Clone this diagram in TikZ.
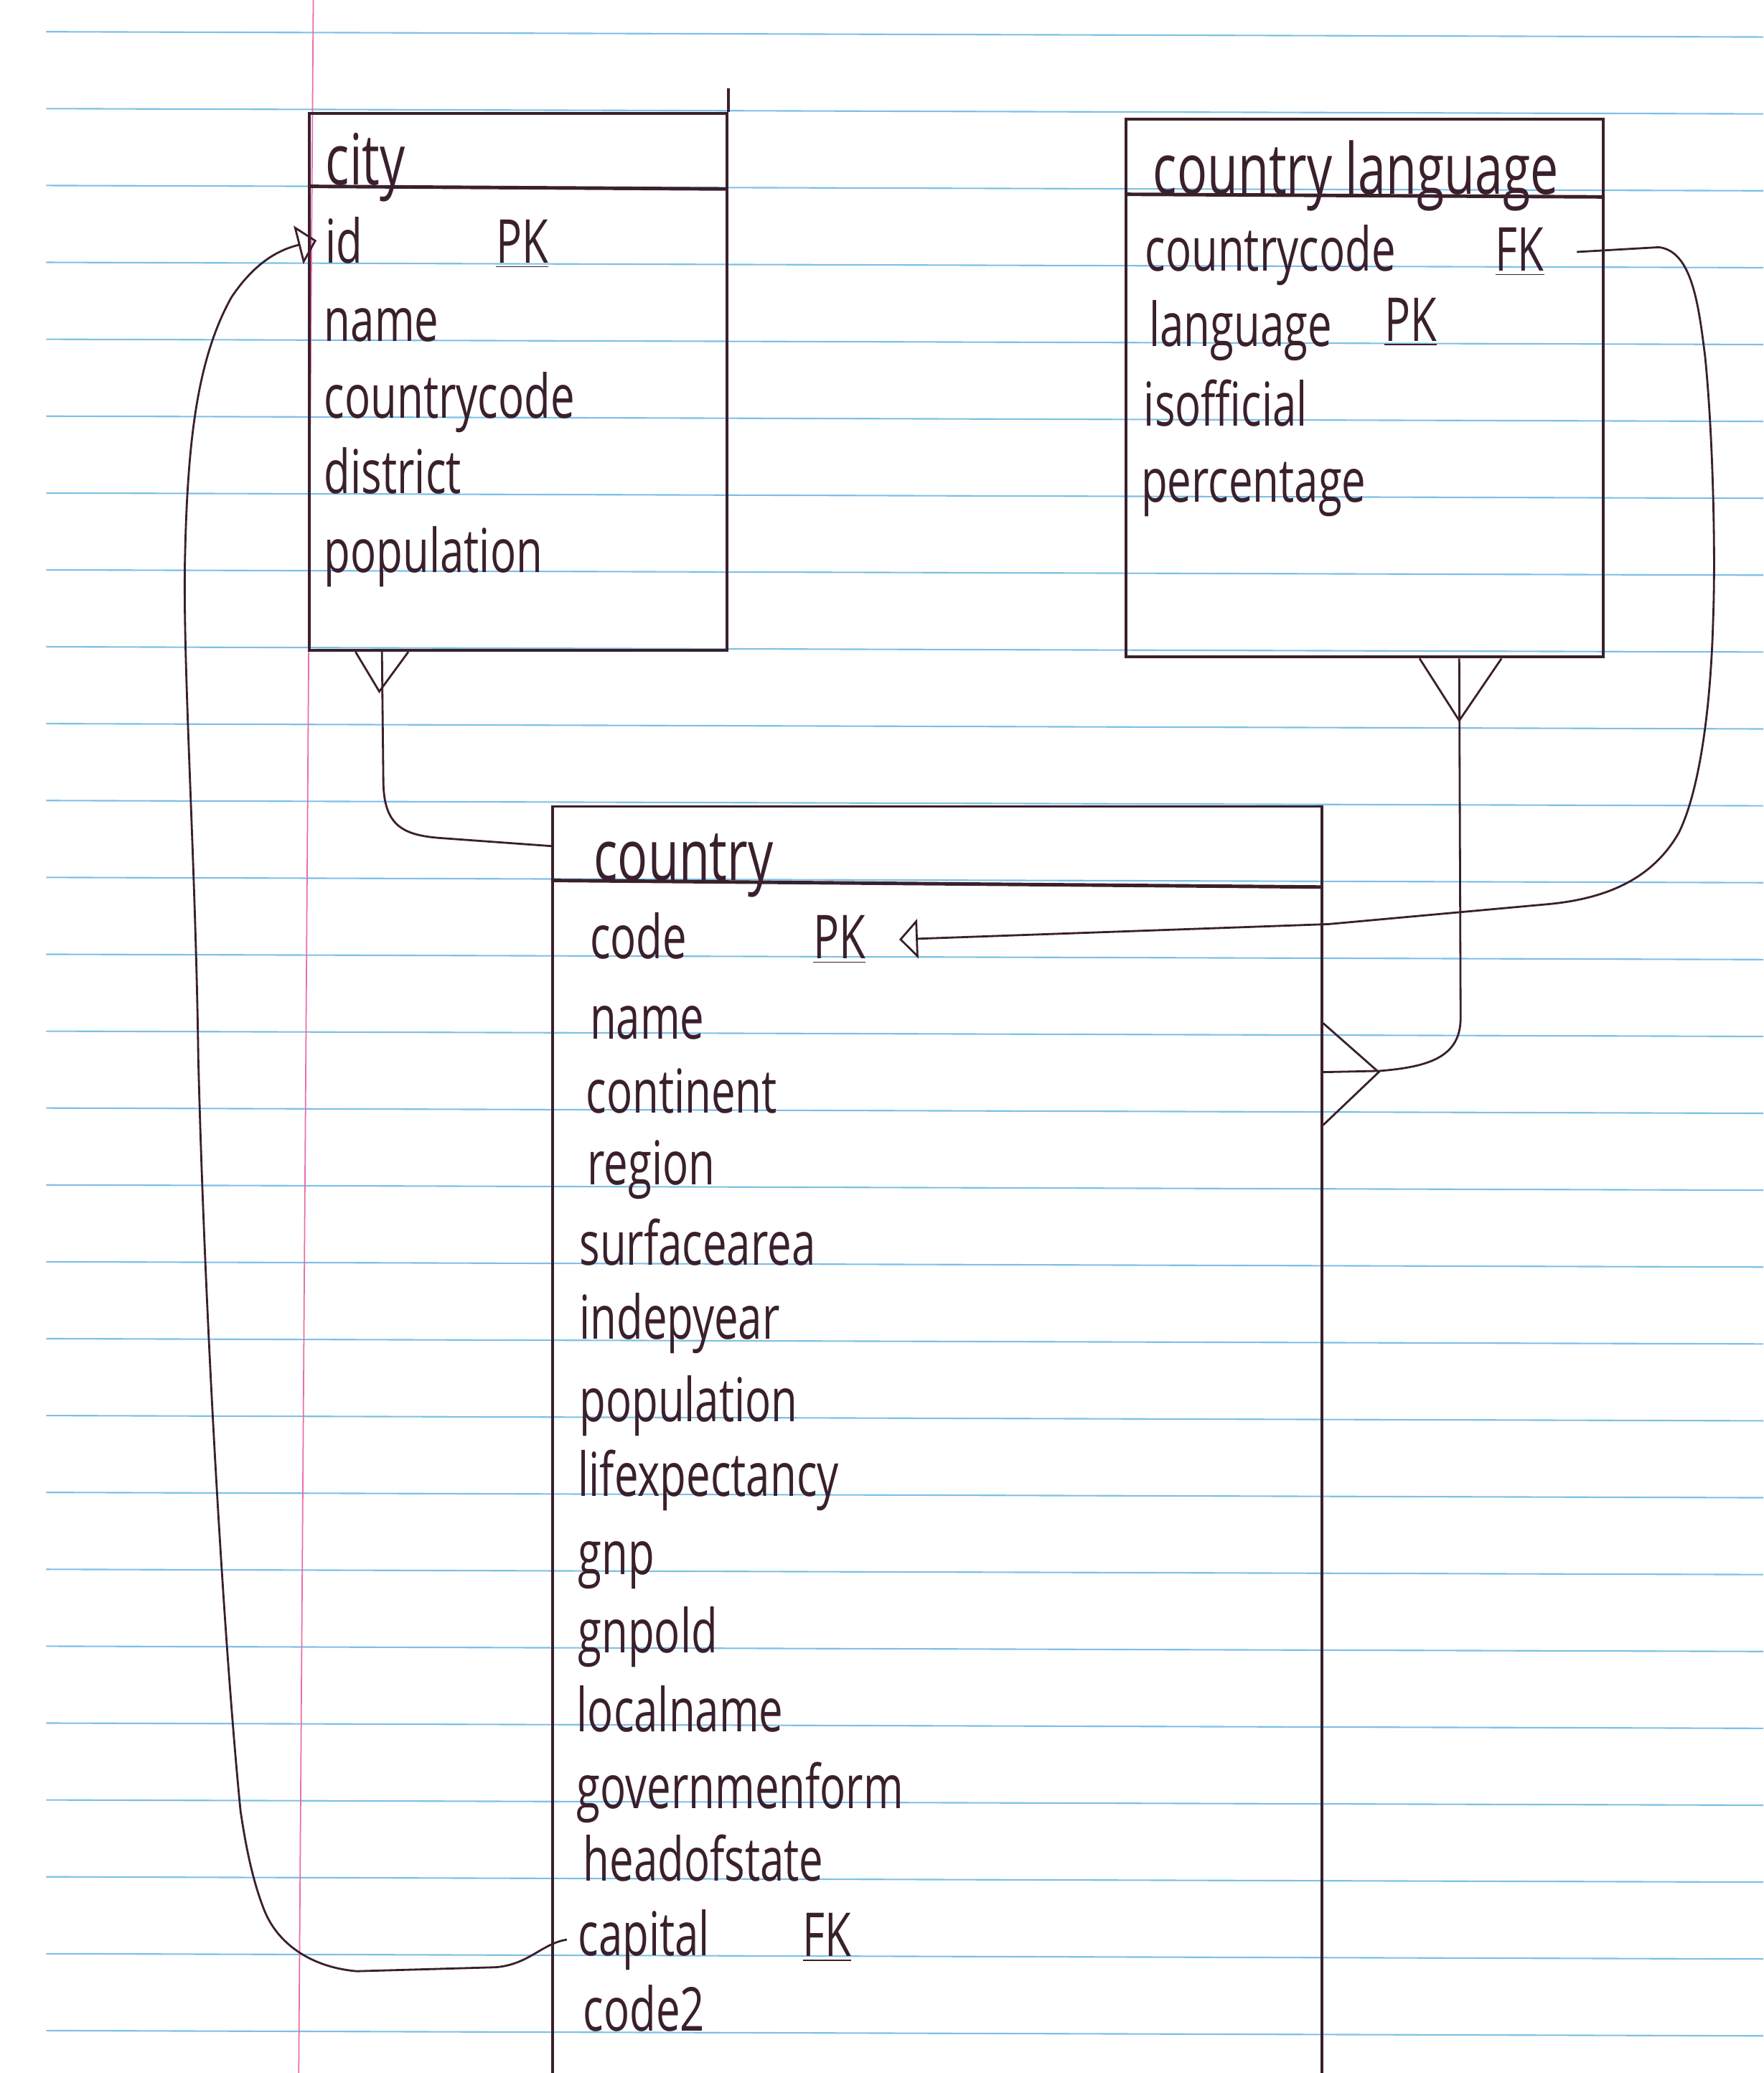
\documentclass[tikz,border=0pt]{standalone}
\usepackage{fontspec}
\setmainfont{Open Sans}[FakeStretch=0.71]
\usepackage{xcolor}
\usepackage{tikz}
\usetikzlibrary{arrows.meta,calc,fit}

\definecolor{ink}{RGB}{58,32,44}
\definecolor{ruling}{RGB}{125,192,232}
\definecolor{marginred}{RGB}{232,110,170}

\begin{document}
\begin{tikzpicture}[
        x=0.18418mm, y=-0.18418mm,
        entity/.style={draw=ink, line width=1.1pt, inner sep=0pt},
        headline/.style={draw=ink, line width=1.4pt},
        entityname/.style={anchor=base west, inner sep=0pt, text=ink, font=\fontsize{28}{28}\selectfont},
        attr/.style={anchor=base west, inner sep=0pt, text=ink, font=\fontsize{24}{24}\selectfont},
        rel/.style={draw=ink, line width=0.8pt},
        fkref/.style={rel, -{Triangle[open, length=2.6mm, width=5.5mm, line width=0.8pt]}}
    ]
                \useasboundingbox (0,0) rectangle (1334,1568);
                \clip (0,0) rectangle (1334,1568);

                \foreach \k in {0,...,26}
                    \draw[ruling, line width=0.6pt] (35,{24+58.15*\k}) -- (1334,{28+58.15*\k});
                \draw[marginred, line width=0.5pt] (237,0) -- (226,1568);

                \node[entity, fit={(234,86) (550,492)}] (city) {};
                \draw[entity] ($(city.north east)+(0,-18)$) -- (city.north east);
                \draw[headline] ($(city.north west)+(0,56)$) -- ($(city.north east)+(0,58)$);
                \node[entityname] (citytitle) at (246,140) {city};
                \node[attr] (cityid) at (246,199) {id};
                \node[attr] (cityidpk) at (375,199) {\underline{PK}};
                \node[attr] (cityname) at (245,258) {name};
                \node[attr] (citycode) at (245,316) {countrycode};
                \node[attr] (citydistrict) at (245,373) {district};
                \node[attr] (citypop) at (245,433) {population};

                \node[entity, fit={(852,90) (1213,497)}] (cl) {};
                \draw[headline] ($(cl.north west)+(0,58)$) -- ($(cl.north east)+(0,60)$);
                \node[entityname] (cltitle) at (872,147) {country language};
                \node[attr] (clcode) at (866,205) {countrycode};
                \node[attr] (clfk) at (1131,205) {\underline{FK}};
                \node[attr] (cllang) at (869,262) {language};
                \node[attr] (cllangpk) at (1047,258) {\underline{PK}};
                \node[attr] (clofficial) at (865,322) {isofficial};
                \node[attr] (clpct) at (863,380) {percentage};

                \node[entity, fit={(418,610) (1000,1600)}] (ctry) {};
                \draw[headline] ($(ctry.north west)+(0,57)$) -- ($(ctry.north east)+(0,62)$);
                \node[entityname] (ctrytitle) at (449,666) {country};
                \node[attr] (ctrycode) at (446,725) {code};
                \node[attr] (ctrycodepk) at (615,725) {\underline{PK}};
                \node[attr] (ctryname) at (446,786) {name};
                \node[attr] (ctrycont) at (443,842) {continent};
                \node[attr] (ctryregion) at (444,896) {region};
                \node[attr] (ctryarea) at (438,957) {surfacearea};
                \node[attr] (ctryindep) at (438,1013) {indepyear};
                \node[attr] (ctrypop) at (438,1075) {population};
                \node[attr] (ctrylife) at (437,1132) {lifexpectancy};
                \node[attr] (ctrygnp) at (437,1191) {gnp};
                \node[attr] (ctrygnpold) at (437,1250) {gnpold};
                \node[attr] (ctrylocal) at (436,1310) {localname};
                \node[attr] (ctrygov) at (436,1368) {governmenform};
                \node[attr] (ctryhead) at (441,1423) {headofstate};
                \node[attr] (ctrycapital) at (437,1479) {capital};
                \node[attr] (ctrycapfk) at (607,1480) {\underline{FK}};
                \node[attr] (ctrycode2) at (441,1536) {code2};

                \coordinate (cityfoot) at ($(city.south west)+(56,0)$);
                \draw[rel] ($(cityfoot)+(-20,0)$) -- ($(cityfoot)+(-2,30)$) -- ($(cityfoot)+(20,0)$);
                \draw[rel] (cityfoot) -- (290,590) .. controls (290,625) and (305,632) .. (335,634) -- ($(ctry.north west)+(0,31)$);

                \coordinate (clfoot) at ($(cl.south west)+(253,0)$);
                \coordinate (ctryfoot) at ($(ctry.north east)+(0,202)$);
                \draw[rel] ($(clfoot)+(-30,0)$) -- ($(clfoot)+(0,47)$) -- ($(clfoot)+(32,0)$);
                \draw[rel] ($(ctryfoot)+(0,-37)$) -- ($(ctryfoot)+(42,0)$) -- ($(ctryfoot)+(0,40)$);
                \draw[rel] (clfoot) -- (1105,770) .. controls (1105,800) and (1080,807) .. (1044,810) -- (ctryfoot);

                \draw[fkref] ([xshift=4.5mm]clfk.east) -- (1255,187) .. controls (1280,190) and (1285,230) .. (1290,270)
                    .. controls (1296,330) and (1298,420) .. (1296,470) .. controls (1294,540) and (1285,600) .. (1270,630)
                    .. controls (1250,665) and (1215,680) .. (1170,684) -- (1005,699) -- ([xshift=4.6mm]ctrycodepk.east);

                \draw[fkref] ([xshift=-1.5mm]ctrycapital.west) .. controls (410,1470) and (400,1486) .. (375,1488) -- (270,1491)
                    .. controls (235,1488) and (210,1470) .. (200,1445) .. controls (190,1420) and (185,1390) .. (182,1370)
                    .. controls (170,1250) and (155,1000) .. (150,800) .. controls (148,650) and (138,500) .. (140,420)
                    .. controls (142,330) and (150,270) .. (175,225) .. controls (195,195) and (215,188) .. ([xshift=-1.2mm]cityid.west);

\end{tikzpicture}
\end{document}
